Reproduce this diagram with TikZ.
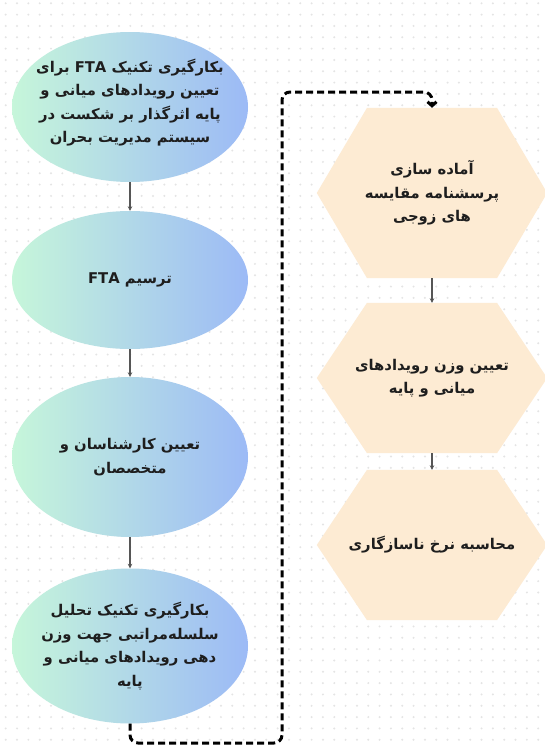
\documentclass[tikz,border=0pt]{standalone}
\usepackage{fontspec}
\usetikzlibrary{positioning,shapes.geometric,arrows.meta,backgrounds}
\newfontfamily\fafont[Script=Arabic]{DejaVu Sans}
\TeXXeTstate=1
\newcommand{\fa}[1]{\beginR #1\endR}
\newcommand{\lat}[1]{\beginL #1\endL{}}
\definecolor{mint}{HTML}{C6F6DA}
\definecolor{skyblue}{HTML}{9CBAF6}
\definecolor{peach}{HTML}{FDEBD3}
\definecolor{dotgray}{HTML}{E4E4E4}
\definecolor{ink}{HTML}{1E1E1E}
\tikzset{
  stage/.style={ellipse, minimum width=236pt, minimum height=150pt, inner sep=-40pt,
    left color=mint, right color=skyblue, align=center, text=ink,
    font={\fafont\bfseries\fontsize{14.8pt}{23.5pt}\selectfont}},
  hexstage/.style={rectangle, minimum width=230pt, minimum height=150pt, inner sep=0pt,
    align=center, text=ink, font={\fafont\bfseries\fontsize{14.8pt}{23.5pt}\selectfont}},
  flow/.style={-{Stealth[length=4.5pt,width=4.5pt]}, draw=ink!75, line width=1.3pt},
  loopback/.style={-{Straight Barb[length=4pt,width=9pt]}, line width=3pt,
    dash pattern=on 7pt off 4pt, rounded corners=8pt}
}
\begin{document}
\begin{tikzpicture}[x=1pt,y=-1pt,on grid]
  \useasboundingbox (0,0) rectangle (544,747);
  % left column
  \node[stage] (e1) at (130,107) {\fa{بکارگیری تکنیک \lat{FTA} برای}\\\fa{تعیین رویدادهای میانی و}\\\fa{پایه اثرگذار بر شکست در}\\\fa{سیستم مدیریت بحران}\\[-11.5pt]};
  \node[stage, minimum height=138pt] (e2) [below=173pt of e1] {\fa{ترسیم \lat{FTA}}};
  \node[stage, minimum height=160pt] (e3) [below=177pt of e2] {\fa{تعیین کارشناسان و}\\\fa{متخصصان}};
  \node[stage, minimum height=155pt] (e4) [below=189pt of e3] {\fa{بکارگیری تکنیک تحلیل}\\\fa{سلسله‌مراتبی جهت وزن}\\\fa{دهی رویدادهای میانی و}\\\fa{پایه}};
  % right column
  \node[hexstage, minimum height=170pt] (h1) at (432,193) {\fa{آماده سازی}\\\fa{پرسشنامه مقایسه}\\\fa{های زوجی}};
  \node[hexstage] (h2) [below=185pt of h1] {\fa{تعیین وزن رویدادهای}\\\fa{میانی و پایه}};
  \node[hexstage] (h3) [below=167pt of h2] {\fa{محاسبه نرخ ناسازگاری}};
  \coordinate (lo) at (282,743);
  \coordinate (hi) at (282,92);
  \path[flow]
  (e1) edge (e2)
  (e2) edge (e3)
  (e3) edge (e4)
  (h1) edge (h2)
  (h2) edge (h3)
  ;
  \draw[loopback] (e4.south) |- (lo) -- (hi) -| (h1.north);
  \begin{pgfonlayer}{background}
    \fill[white] (0,0) rectangle (544,747);
    \foreach \i in {0,...,47}
      \foreach \j in {0,...,65}
        \fill[dotgray] (5.7+11.33*\i,3.3+11.33*\j) circle (1.1pt);
    \foreach \h in {h1,h2,h3}
      \fill[peach] ([xshift=-65pt]\h.north) -- ([xshift=65pt]\h.north) -- (\h.east)
        -- ([xshift=65pt]\h.south) -- ([xshift=-65pt]\h.south) -- (\h.west) -- cycle;
  \end{pgfonlayer}
\end{tikzpicture}
\end{document}
